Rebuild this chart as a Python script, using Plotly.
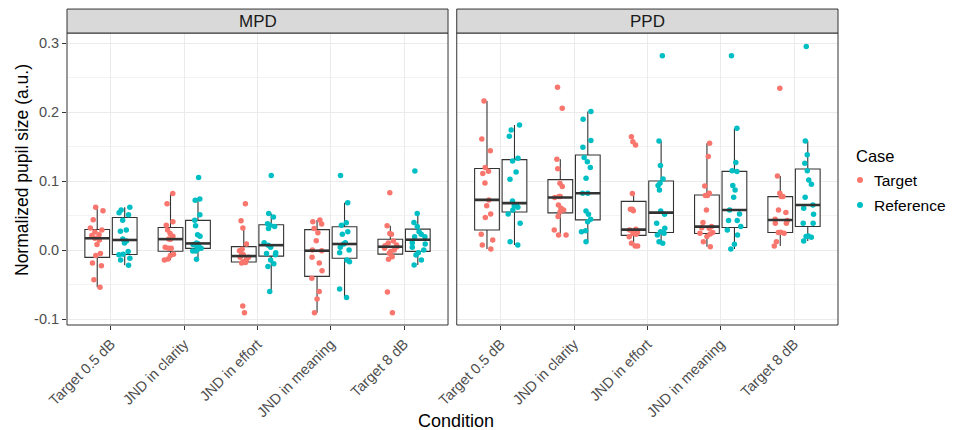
import numpy as np
import plotly.graph_objects as go

conditions = ["Target 0.5 dB", "JND in clarity", "JND in effort", "JND in meaning", "Target 8 dB"]
measures = ["MPD", "PPD"]
cases = ["Target", "Reference"]
case_colors = ["#F8766D", "#00BFC4"]
y_tick_vals = [-0.1, 0.0, 0.1, 0.2, 0.3]
y_tick_labels = ["-0.1", "0.0", "0.1", "0.2", "0.3"]

mpd_target = [
    [0.062, 0.057, 0.044, 0.032, 0.029, 0.026, 0.022, 0.021, 0.017, 0.0145, 0.008, -0.008, -0.005, -0.023, -0.019, -0.043, -0.054],
    [0.082, 0.067, 0.041, 0.036, 0.029, 0.024, 0.020, 0.016, 0.0155, 0.004, 0.0024, 0.0024, -0.006, -0.008, -0.013, -0.0145],
    [0.067, 0.0425, 0.032, 0.0087, 0.001, -0.001, -0.006, -0.007, -0.0106, -0.0106, -0.0135, -0.018, -0.019, -0.017, -0.081, -0.091],
    [0.0435, 0.041, 0.0377, 0.031, 0.025, 0.0135, 0.0, -0.001, -0.0106, -0.019, -0.030, -0.041, -0.060, -0.071, -0.091],
    [0.083, 0.035, 0.023, 0.024, 0.013, 0.010, 0.0072, 0.006, 0.0048, 0.0024, 0.0, -0.002, -0.0048, -0.0097, -0.0135, -0.061, -0.091],
]
mpd_reference = [
    [0.062, 0.058, 0.054, 0.051, 0.043, 0.029, 0.027, 0.016, 0.013, 0.010, -0.002, -0.006, -0.007, -0.012, -0.0145, -0.022],
    [0.105, 0.074, 0.072, 0.051, 0.043, 0.035, 0.022, 0.020, 0.010, 0.009, 0.008, 0.007, 0.005, 0.0024, 0.001, -0.0015, -0.0015, -0.0135],
    [0.108, 0.053, 0.048, 0.038, 0.036, 0.034, 0.031, 0.0106, 0.007, 0.004, -0.004, -0.005, -0.007, -0.0145, -0.020, -0.024, -0.060],
    [0.108, 0.0686, 0.0396, 0.036, 0.0266, 0.023, 0.0106, 0.0087, 0.0039, 0.0, -0.0039, -0.0145, -0.0169, -0.0565, -0.069],
    [0.1145, 0.053, 0.040, 0.034, 0.0266, 0.023, 0.0193, 0.0193, 0.0106, 0.0087, 0.0039, 0.0, -0.0039, -0.0072, -0.0145, -0.0217],
]
ppd_target = [
    [0.216, 0.161, 0.144, 0.1195, 0.114, 0.111, 0.097, 0.0726, 0.064, 0.052, 0.047, 0.023, 0.0145, 0.0073, 0.0015],
    [0.236, 0.2056, 0.1316, 0.1176, 0.0968, 0.092, 0.0774, 0.0774, 0.076, 0.0653, 0.0605, 0.058, 0.0556, 0.0484, 0.029, 0.0218, 0.0218],
    [0.164, 0.157, 0.152, 0.082, 0.059, 0.059, 0.057, 0.030, 0.029, 0.0256, 0.024, 0.023, 0.0193, 0.0097, 0.0058, 0.0058],
    [0.1548, 0.1355, 0.0929, 0.0822, 0.0789, 0.0789, 0.058, 0.0397, 0.0339, 0.0324, 0.0314, 0.0252, 0.0242, 0.0232, 0.0194, 0.0121, 0.0048],
    [0.2346, 0.1074, 0.0822, 0.0774, 0.0774, 0.058, 0.0542, 0.0445, 0.0426, 0.0387, 0.0387, 0.0256, 0.0252, 0.0242, 0.0121, 0.0058],
]
ppd_reference = [
    [0.181, 0.174, 0.165, 0.133, 0.129, 0.113, 0.1026, 0.071, 0.065, 0.064, 0.062, 0.058, 0.052, 0.0387, 0.012, 0.0073],
    [0.2008, 0.1896, 0.1587, 0.149, 0.134, 0.128, 0.1195, 0.104, 0.0822, 0.0822, 0.0566, 0.0518, 0.0445, 0.041, 0.028, 0.0266, 0.0121],
    [0.2816, 0.158, 0.1224, 0.103, 0.0968, 0.0934, 0.087, 0.0566, 0.0518, 0.0387, 0.0314, 0.0266, 0.0242, 0.0218, 0.0121, 0.0097],
    [0.2816, 0.1766, 0.1268, 0.1147, 0.1137, 0.0934, 0.087, 0.0764, 0.058, 0.0522, 0.0426, 0.0426, 0.0339, 0.029, 0.0218, 0.0082, 0.0015],
    [0.295, 0.158, 0.1379, 0.1258, 0.1147, 0.1016, 0.0953, 0.0764, 0.0653, 0.0605, 0.0518, 0.0387, 0.0387, 0.0203, 0.0194, 0.0184, 0.0131],
]

data = {
    ("MPD", "Target"): mpd_target,
    ("MPD", "Reference"): mpd_reference,
    ("PPD", "Target"): ppd_target,
    ("PPD", "Reference"): ppd_reference,
}

BOXGAP = 0.25
BOXGROUPGAP = 0.1
slot = (1 - BOXGAP) / 2
half_box = slot * (1 - BOXGROUPGAP) / 2
DARK = "#333333"
FONT = "Liberation Sans, Arial, Helvetica, sans-serif"

W, H = 957, 430
ML, MR, MT, MB = 67, 119, 33, 105
PW, PH = W - ML - MR, H - MT - MB


def px_x(px):
    return (px - ML) / PW


def px_y(py):
    return (H - MB - py) / PH


fig = go.Figure()
axes = {"MPD": "x", "PPD": "x2"}

# boxes with jittered points
for m in measures:
    for ci, case in enumerate(cases):
        xs, ys = [], []
        for k, vals in enumerate(data[(m, case)]):
            xs += [k] * len(vals)
            ys += vals
        fig.add_trace(go.Box(
            x=xs, y=ys, xaxis=axes[m], yaxis="y", name=case,
            offsetgroup=case, showlegend=False,
            boxpoints="all", jitter=0.6, pointpos=0, whiskerwidth=0,
            quartilemethod="linear", fillcolor="white",
            line=dict(color=DARK, width=1.1),
            marker=dict(color=case_colors[ci], size=5.5, opacity=1),
        ))

# thicker median bars (ggplot style)
for m in measures:
    for ci, case in enumerate(cases):
        offset = (-1 if ci == 0 else 1) * slot / 2
        mx, my = [], []
        for k, vals in enumerate(data[(m, case)]):
            med = float(np.median(vals))
            mx += [k + offset - half_box, k + offset + half_box, None]
            my += [med, med, None]
        fig.add_trace(go.Scatter(
            x=mx, y=my, xaxis=axes[m], yaxis="y", mode="lines",
            line=dict(color=DARK, width=2.6), showlegend=False, hoverinfo="skip",
        ))

xcommon = dict(
    range=[-0.6, 4.6], tickmode="array", tickvals=list(range(len(conditions))),
    ticktext=conditions, tickangle=-45, showgrid=True, gridcolor="#EBEBEB",
    gridwidth=1, zeroline=False, ticks="outside", ticklen=4, tickcolor=DARK,
    tickfont=dict(size=14.5, color="#4D4D4D", family=FONT), anchor="y",
    automargin=False,
)
fig.update_layout(
    width=W, height=H,
    margin=dict(l=ML, r=MR, t=MT, b=MB, autoexpand=False),
    boxmode="group", boxgap=BOXGAP, boxgroupgap=BOXGROUPGAP,
    plot_bgcolor="white", paper_bgcolor="white",
    font=dict(family=FONT, color="#000000"),
    xaxis=dict(domain=[0, 0.4942], **xcommon),
    xaxis2=dict(domain=[0.5055, 1], **xcommon),
    yaxis=dict(
        range=[-0.1087, 0.3145], tickmode="array", tickvals=y_tick_vals,
        ticktext=y_tick_labels, showgrid=True, gridcolor="#EBEBEB", gridwidth=1,
        minor=dict(showgrid=True, gridcolor="#F3F3F3", gridwidth=0.6, dtick=0.05, tick0=0.05),
        zeroline=False, ticks="outside", ticklen=4, tickcolor=DARK,
        tickfont=dict(size=14.5, color="#4D4D4D", family=FONT), anchor="x",
        automargin=False,
    ),
    showlegend=False,
)

shapes = []
annotations = []
for m in measures:
    xr = axes[m] + " domain"
    shapes.append(dict(type="rect", xref=xr, yref="y domain", x0=0, x1=1, y0=0, y1=1,
                       line=dict(color=DARK, width=1), fillcolor="rgba(0,0,0,0)", layer="above"))
    shapes.append(dict(type="rect", xref=xr, yref="y domain", x0=0, x1=1, y0=1, y1=1.082,
                       line=dict(color=DARK, width=1), fillcolor="#D9D9D9", layer="above"))
    annotations.append(dict(text=m, xref=xr, yref="y domain", x=0.5, y=1.041,
                            showarrow=False, xanchor="center", yanchor="middle",
                            font=dict(size=17, color="#1A1A1A", family=FONT)))

# axis titles
annotations.append(dict(text="Condition", xref="paper", yref="paper", x=px_x(455.5), y=px_y(421),
                        showarrow=False, xanchor="center", yanchor="middle",
                        font=dict(size=18, color="#000000", family=FONT)))
annotations.append(dict(text="Normalized pupil size (a.u.)", xref="paper", yref="paper",
                        x=px_x(22), y=px_y(170), textangle=-90, showarrow=False,
                        xanchor="center", yanchor="middle",
                        font=dict(size=17.5, color="#000000", family=FONT)))

# legend (ggplot-style guide)
annotations.append(dict(text="Case", xref="paper", yref="paper", x=px_x(854), y=px_y(155.5),
                        showarrow=False, xanchor="left", yanchor="middle",
                        font=dict(size=16.5, color="#000000", family=FONT)))
for ci, case in enumerate(cases):
    cy = 180 + 25 * ci
    shapes.append(dict(type="circle", xref="paper", yref="paper",
                       xsizemode="pixel", ysizemode="pixel",
                       xanchor=px_x(860), yanchor=px_y(cy),
                       x0=-3, x1=3, y0=-3, y1=3,
                       line=dict(width=0), fillcolor=case_colors[ci]))
    annotations.append(dict(text=case, xref="paper", yref="paper", x=px_x(872), y=px_y(cy),
                            showarrow=False, xanchor="left", yanchor="middle",
                            font=dict(size=15.5, color="#000000", family=FONT)))

fig.update_layout(shapes=shapes, annotations=annotations)

fig.write_html("out.html")
